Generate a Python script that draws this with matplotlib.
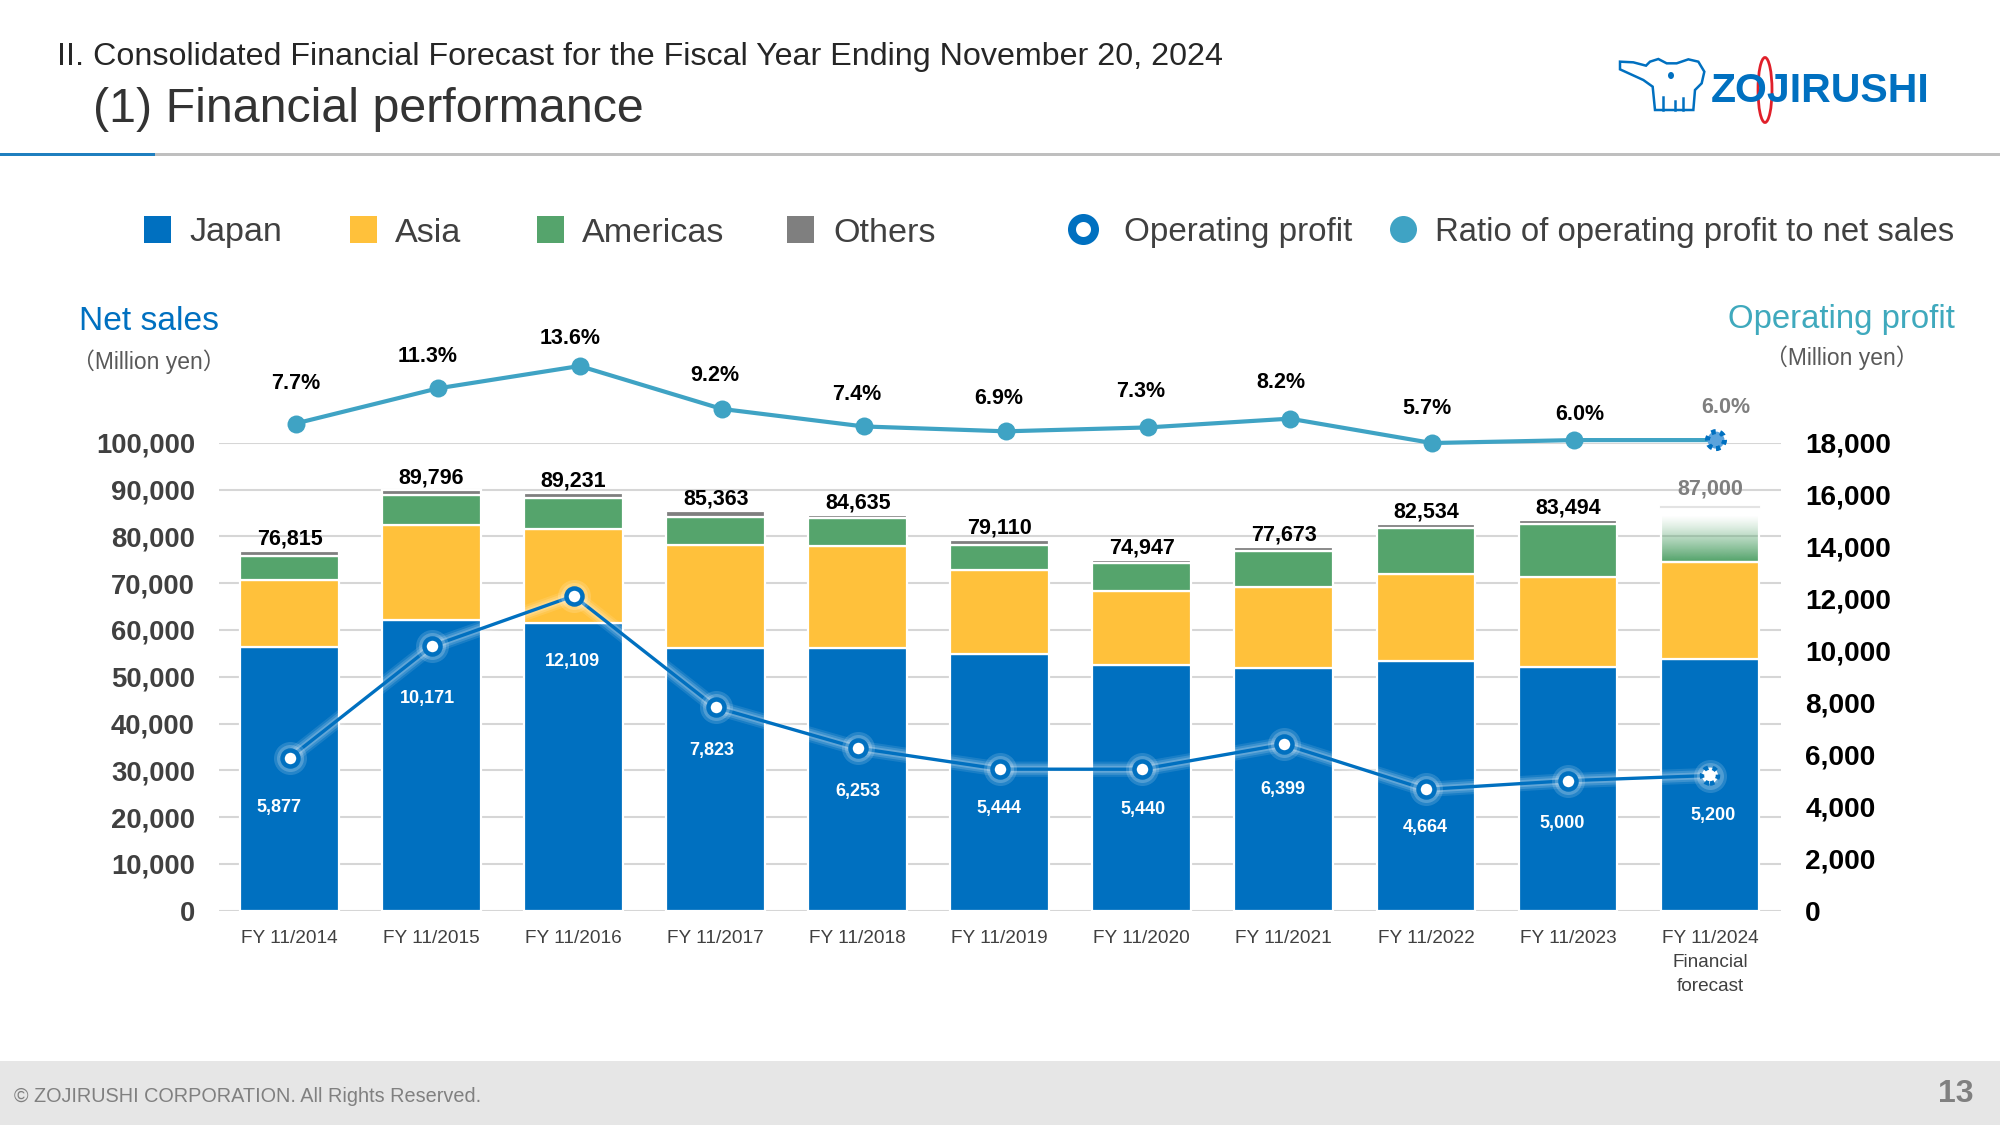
import numpy as np
import matplotlib
matplotlib.use("Agg")
import matplotlib.pyplot as plt
import matplotlib.patheffects as pe
from matplotlib.patches import Rectangle, Polygon, Ellipse

W, H = 2000, 1125
SANS = ['Liberation Sans', 'Noto Sans CJK JP']
plt.rcParams['font.family'] = SANS

years = ['FY 11/2014', 'FY 11/2015', 'FY 11/2016', 'FY 11/2017', 'FY 11/2018', 'FY 11/2019',
         'FY 11/2020', 'FY 11/2021', 'FY 11/2022', 'FY 11/2023', 'FY 11/2024\nFinancial\nforecast']
japan = [56400, 62100, 61400, 56200, 56100, 54800, 52400, 51800, 53300, 52100, 53800]
asia = [14300, 20250, 20200, 22000, 21800, 17900, 15950, 17350, 18600, 19250, 20750]
americas = [5000, 6400, 6650, 6000, 6000, 5450, 5850, 7650, 9800, 11200, 10000]
others = [1115, 1046, 981, 1163, 735, 960, 747, 873, 834, 944, 1750]
totals = [76815, 89796, 89231, 85363, 84635, 79110, 74947, 77673, 82534, 83494, 87000]
op_profit = [5877, 10171, 12109, 7823, 6253, 5444, 5440, 6399, 4664, 5000, 5200]
ratio = [7.7, 11.3, 13.6, 9.2, 7.4, 6.9, 7.3, 8.2, 5.7, 6.0, 6.0]

# label nudges in pixels
op_dx = [-11, -4, -1, -4, 0, -1, 1, -1, -1, -6, 3]
op_dy = [-50, -52, -66, -43, -43, -39, -40, -45, -38, -43, -40]
ratio_dx = [0, -10, -9, -7, -7, -7, -7, -9, -5, 6, 10]
ratio_dy = [40, 32, 28, 33, 32, 33, 36, 36, 35, 26, 33]

BLUE = '#0070C0'
YELLOW = '#FFC13B'
GREEN = '#55A46C'
GREY = '#7F7F7F'
TEAL = '#3FA3C4'
DARK = '#404040'


def pt(px):
    return px * 0.72


def rect(l, t, r, b):
    return [l / W, 1 - b / H, (r - l) / W, (b - t) / H]


fig = plt.figure(figsize=(20, 11.25), dpi=100)

# page furniture in pixel coordinates
page = fig.add_axes([0, 0, 1, 1], zorder=-1)
page.set_xlim(0, W)
page.set_ylim(H, 0)
page.axis('off')

page.add_patch(Rectangle((0, 1061), W, H - 1061, color='#E6E6E6', lw=0))
page.add_patch(Rectangle((0, 152.5), W, 3, color='#BFBFBF', lw=0))
page.add_patch(Rectangle((0, 152.5), 155, 3, color='#1F7FBF', lw=0))
page.text(57, 56.5, 'II. Consolidated Financial Forecast for the Fiscal Year Ending November 20, 2024',
          fontsize=23.2, color='#262626', va='center')
page.text(93, 110, '(1) Financial performance', fontsize=34.8, color='#333333', va='center')
page.text(14, 1096, '© ZOJIRUSHI CORPORATION. All Rights Reserved.', fontsize=14.3, color='#808080', va='center')
page.text(1974, 1094, '13', fontsize=23, color='#808080', ha='right', va='center', fontweight='bold')

# logo
elephant = [(180, 95), (220, 97), (258, 107), (270, 95), (295, 87), (320, 100), (350, 100), (385, 88), (415, 95),
            (433, 125), (425, 160), (405, 180), (400, 240), (285, 240), (278, 170), (250, 150), (180, 118)]
page.add_patch(Polygon([(1560 + a / 3, 30 + b / 3) for a, b in elephant], closed=True, fc='none', ec=BLUE, lw=1.8))
page.add_patch(Ellipse((1671, 75.5), 6, 7, color=BLUE, lw=0))
for a0, b0, a1, b1 in [(310, 240, 310, 200), (345, 240, 345, 212), (370, 240, 370, 205)]:
    page.plot([1560 + a0 / 3, 1560 + a1 / 3], [30 + b0 / 3, 30 + b1 / 3], color=BLUE, lw=1.8)
page.text(1820, 91, 'ZOJIRUSHI', fontweight='bold', fontsize=29.5, color=BLUE, ha='center', va='center')
page.add_patch(Ellipse((1765, 90), 14, 65, fc='none', ec='#E0202A', lw=2))

# legend
for x, c, name, tx, ty in [(144, BLUE, 'Japan', 189, 232), (350, YELLOW, 'Asia', 395, 234),
                           (537, GREEN, 'Americas', 582, 234), (787, GREY, 'Others', 833, 234)]:
    page.add_patch(Rectangle((x, 216), 27, 27, color=c, lw=0))
    page.text(tx, ty, name, fontsize=24.6, color=DARK, va='center')
page.plot([1083], [229], 'o', ms=pt(23), mfc='white', mec=BLUE, mew=pt(8))
page.text(1124, 232.5, 'Operating profit', fontsize=23.9, color=DARK, va='center')
page.plot([1403], [229], 'o', ms=pt(27), color=TEAL, mew=0)
page.text(1435, 232.5, 'Ratio of operating profit to net sales', fontsize=23.7, color=DARK, va='center')

page.text(79, 321.5, 'Net sales', fontsize=24.2, color=BLUE, va='center')
page.text(149, 362, '（Million yen）', fontsize=16.5, color='#595959', ha='center', va='center')
page.text(1955, 319.5, 'Operating profit', fontsize=23.7, color='#3FA9BD', ha='right', va='center')
page.text(1842, 358, '（Million yen）', fontsize=16.5, color='#595959', ha='center', va='center')

# bars, left scale
x = np.arange(len(years))
bar_w = 0.695
ax = fig.add_axes(rect(218.5, 442.7, 1781, 910.7), facecolor='none', zorder=1)
edge = dict(edgecolor='white', linewidth=1.6, zorder=2)
green_colors = [GREEN] * 10 + ['none']
other_colors = [GREY] * 10 + ['none']
bottom = np.zeros(len(x))
ax.bar(x, japan, bar_w, color=BLUE, **edge)
bottom += japan
ax.bar(x, asia, bar_w, bottom=bottom, color=YELLOW, **edge)
bottom += asia
ax.bar(x, americas, bar_w, bottom=bottom, color=green_colors, **edge)
# forecast americas segment fades to white
grad = np.ones((128, 1, 4))
grad[..., :3] = matplotlib.colors.to_rgb(GREEN)
grad[:, 0, 3] = np.linspace(0, 1, 128) ** 1.2
ax.imshow(grad, extent=(x[-1] - bar_w / 2, x[-1] + bar_w / 2, bottom[-1] + 200, bottom[-1] + americas[-1]),
          aspect='auto', zorder=1.9, origin='upper')
bottom += americas
ax.bar(x, others, bar_w, bottom=bottom, color=other_colors, **edge)
ax.plot([x[-1] - bar_w / 2, x[-1] + bar_w / 2], [bottom[-1] + others[-1]] * 2, color='#E3E3E3', lw=1.5, zorder=2.5)

ax.set_xlim(-0.5, 10.5)
ax.set_ylim(0, 100000)
ax.set_yticks(np.arange(0, 100001, 10000))
ax.set_yticklabels([f'{v:,}' for v in range(0, 100001, 10000)], fontweight='bold', fontsize=19.8, color=DARK)
ax.set_xticks(x)
ax.set_xticklabels(years, fontsize=13.7, color=DARK, linespacing=1.55)
ax.tick_params(axis='both', length=0)
ax.tick_params(axis='y', pad=17)
ax.tick_params(axis='x', pad=14)
ax.grid(axis='y', color='#D6D6D6', lw=1.5, zorder=0)
ax.set_axisbelow(True)
for s in ax.spines.values():
    s.set_visible(False)

for i, t in enumerate(totals):
    ax.annotate(f'{t:,}', (x[i], t), xytext=(0, pt(12 if i < 10 else 15)), textcoords='offset points',
                ha='center', va='center', fontweight='bold', fontsize=15.5,
                color='black' if i < 10 else GREY, zorder=5)

# operating profit, right scale
ax2 = ax.twinx()
ax2.set_zorder(2)
ax2.set_facecolor('none')
ax2.set_ylim(0, 18000)
ax2.set_yticks(np.arange(0, 18001, 2000))
ax2.set_yticklabels([f'{v:,}' for v in range(0, 18001, 2000)], fontweight='bold', fontsize=20.2, color='black')
ax2.tick_params(axis='y', length=0, pad=17.5)
for s in ax2.spines.values():
    s.set_visible(False)

glow = [pe.Stroke(linewidth=11, foreground='white', alpha=0.1),
        pe.Stroke(linewidth=8, foreground='white', alpha=0.15),
        pe.Stroke(linewidth=5, foreground='white', alpha=0.2), pe.Normal()]
ax2.plot(x, op_profit, color=BLUE, lw=2.4, path_effects=glow, zorder=3)
ax2.scatter(x, op_profit, s=pt(33) ** 2, color='white', alpha=0.15, lw=0, zorder=3.4)
ax2.scatter(x, op_profit, s=pt(27) ** 2, color='white', alpha=0.2, lw=0, zorder=3.5)
ax2.scatter(x[:-1], op_profit[:-1], s=pt(16) ** 2, fc='white', ec=BLUE, lw=pt(4.5), zorder=4)
ax2.scatter(x[-1:], op_profit[-1:], s=pt(16) ** 2, fc='white', ec=BLUE, lw=pt(4.5), linestyle=(0, (1, 1)), zorder=4)
for i, v in enumerate(op_profit):
    ax2.annotate(f'{v:,}', (x[i], v), xytext=(pt(op_dx[i]), pt(op_dy[i])), textcoords='offset points',
                 ha='center', va='center', fontweight='bold', fontsize=13, color='white', zorder=5)

# ratio line sits in its own band above the bars, nudged 6px to the right
ax3 = fig.add_axes(rect(224.5, 340, 1787, 498.6), facecolor='none', zorder=3)
ax3.set_xlim(-0.5, 10.5)
ax3.set_ylim(0, 158.6 / 9.75)
ax3.axis('off')
ax3.plot(x, ratio, color=TEAL, lw=3, zorder=2)
ax3.scatter(x[:-1], ratio[:-1], s=pt(18) ** 2, color=TEAL, lw=0, zorder=3)
ax3.scatter(x[-1:], ratio[-1:], s=pt(17) ** 2, fc='#5BA3DC', ec=BLUE, lw=pt(5), linestyle=(0, (0.9, 0.9)), zorder=3)
for i, v in enumerate(ratio):
    ax3.annotate(f'{v:.1f}%', (x[i], v), xytext=(pt(ratio_dx[i]), pt(ratio_dy[i])), textcoords='offset points',
                 ha='center', va='center', fontweight='bold', fontsize=15.5,
                 color='black' if i < 10 else GREY, annotation_clip=False)

fig.savefig('out.png', dpi=100)
